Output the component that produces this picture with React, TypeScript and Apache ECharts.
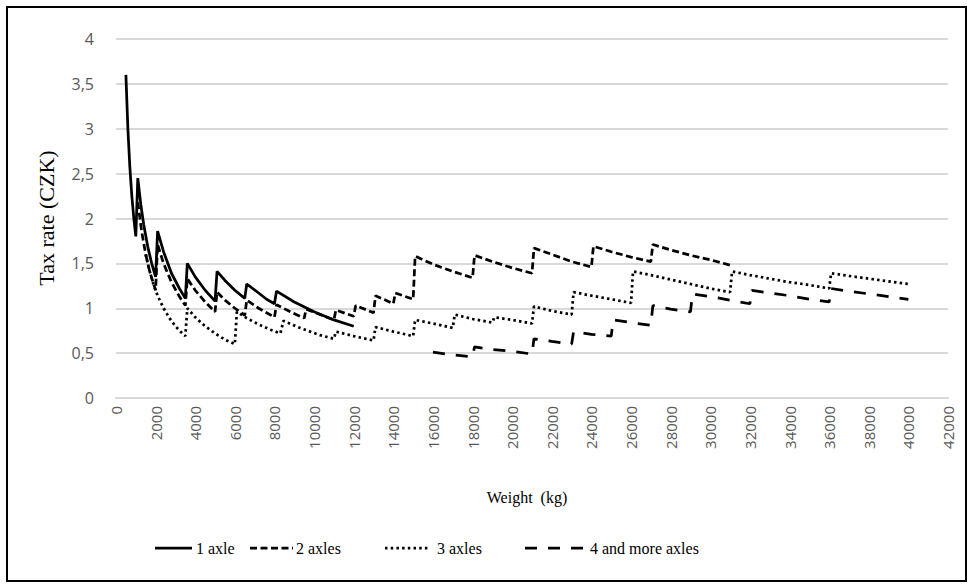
import React, { useEffect, useRef } from 'react';
import * as echarts from 'echarts';

const seriesNames = ['1 axle', '2 axles', '3 axles', '4 and more axles'];
const xTitle = 'Weight  (kg)';
const yTitle = 'Tax rate (CZK)';

// [weight kg, tax rate CZK]
const axle1: [number, number][] = [
  [500, 3.6], [600, 3.0], [700, 2.57], [800, 2.25], [900, 2.0], [1000, 1.8],
  [1100, 2.45], [1250, 2.16], [1400, 1.93], [1600, 1.69], [1800, 1.5], [2000, 1.35],
  [2100, 1.86], [2400, 1.63], [2800, 1.39], [3200, 1.22], [3500, 1.11],
  [3600, 1.5], [4000, 1.35], [4500, 1.2], [5000, 1.08],
  [5100, 1.41], [5500, 1.31], [6000, 1.2], [6500, 1.11],
  [6600, 1.27], [7200, 1.17], [7600, 1.1], [8000, 1.05],
  [8100, 1.19], [9000, 1.07], [10000, 0.96], [11000, 0.87], [12000, 0.8],
];

const axle2: [number, number][] = [
  [1100, 2.18], [1300, 1.85], [1500, 1.6], [1700, 1.41], [2000, 1.2],
  [2100, 1.71], [2400, 1.5], [2800, 1.29], [3200, 1.13], [3500, 1.03],
  [3600, 1.33], [4000, 1.2], [4500, 1.07], [5000, 0.96],
  [5100, 1.18], [5500, 1.09], [6000, 1.0], [6500, 0.92],
  [6600, 1.09], [7200, 1.0], [8000, 0.9],
  [8100, 1.04], [8800, 0.96], [9500, 0.89],
  [9600, 0.99], [10300, 0.93], [11000, 0.87],
  [11100, 0.98], [12000, 0.91],
  [12100, 1.03], [13000, 0.95],
  [13100, 1.14], [14000, 1.05],
  [14100, 1.17], [15000, 1.1],
  [15100, 1.58], [16000, 1.49], [17000, 1.41], [18000, 1.34],
  [18100, 1.59], [19000, 1.52], [20000, 1.45], [21000, 1.39],
  [21100, 1.67], [22000, 1.6], [23000, 1.52], [24000, 1.46],
  [24100, 1.69], [25000, 1.63], [26000, 1.57], [27000, 1.52],
  [27100, 1.71], [28000, 1.65], [29000, 1.59], [30000, 1.54], [31000, 1.48],
];

const axle3: [number, number][] = [
  [1500, 1.6], [1700, 1.41], [1900, 1.26], [2100, 1.14], [2400, 1.0], [2700, 0.89],
  [3000, 0.8], [3250, 0.74], [3500, 0.69],
  [3600, 1.0], [4000, 0.9], [4500, 0.8], [5000, 0.72], [5500, 0.65], [6000, 0.6],
  [6100, 0.96], [6600, 0.89], [7200, 0.82], [7800, 0.76], [8300, 0.72],
  [8450, 0.86], [9300, 0.78], [10300, 0.7], [11000, 0.66],
  [11100, 0.74], [12000, 0.69], [13000, 0.64],
  [13100, 0.79], [14000, 0.74], [15000, 0.69],
  [15100, 0.87], [16000, 0.83], [17000, 0.78],
  [17100, 0.93], [18000, 0.88], [19000, 0.84],
  [19100, 0.9], [20000, 0.87], [21000, 0.83],
  [21100, 1.02], [22000, 0.97], [23000, 0.93],
  [23100, 1.18], [24000, 1.14], [25000, 1.1], [26000, 1.06],
  [26100, 1.41], [27000, 1.37], [28000, 1.32], [29000, 1.27], [30000, 1.22], [31000, 1.18],
  [31100, 1.41], [32000, 1.37], [33000, 1.33], [34000, 1.29], [35000, 1.26], [36000, 1.22],
  [36100, 1.39], [37000, 1.36], [38000, 1.33], [39000, 1.3], [40000, 1.27],
];

const axle4: [number, number][] = [
  [16000, 0.51], [17000, 0.48], [18000, 0.46],
  [18100, 0.57], [19000, 0.54], [20000, 0.52], [21000, 0.49],
  [21100, 0.66], [22000, 0.63], [23000, 0.6],
  [23100, 0.74], [24000, 0.71], [25000, 0.69],
  [25100, 0.87], [26000, 0.84], [27000, 0.81],
  [27100, 1.03], [28000, 0.99], [29000, 0.96],
  [29100, 1.16], [30000, 1.13], [31000, 1.09], [32000, 1.05],
  [32100, 1.2], [33000, 1.17], [34000, 1.14], [35000, 1.1], [36000, 1.07],
  [36100, 1.22], [37000, 1.19], [38000, 1.16], [39000, 1.13], [40000, 1.1],
];

const seriesData = [axle1, axle2, axle3, axle4];
const dashes: (number[] | 'solid')[] = ['solid', [7, 3.5], [2.5, 3.2], [12, 11]];

const LW = 2.75;
const SERIF = "'Liberation Serif', 'Times New Roman', serif";
const SANS = "'Open Sans', 'Noto Sans', sans-serif";

export default function App() {
  const ref = useRef<HTMLDivElement>(null);
  useEffect(() => {
    const chart = echarts.init(ref.current!, null, { renderer: 'svg' });
    const legendItems = [
      { x1: 155, x2: 192, tx: 196 },
      { x1: 250, x2: 293, tx: 296 },
      { x1: 385, x2: 430, tx: 437 },
      { x1: 525, x2: 585, tx: 590 },
    ];
    const legendY = 548;
    const graphic: any[] = [
      {
        type: 'rect', shape: { x: 7, y: 7, width: 959, height: 574 },
        style: { fill: 'none', stroke: '#000', lineWidth: 2 }, silent: true,
      },
      {
        type: 'text', x: 527, y: 497,
        style: { text: xTitle, font: `16px ${SERIF}`, fill: '#000', textAlign: 'center', textVerticalAlign: 'middle' },
      },
      {
        type: 'text', x: 46, y: 218, rotation: Math.PI / 2,
        style: { text: yTitle, font: `22px ${SERIF}`, fill: '#000', textAlign: 'center', textVerticalAlign: 'middle' },
      },
    ];
    legendItems.forEach((it, i) => {
      graphic.push({
        type: 'line', shape: { x1: it.x1, y1: legendY, x2: it.x2, y2: legendY },
        style: { stroke: '#000', lineWidth: LW, lineDash: dashes[i] === 'solid' ? null : dashes[i] },
      });
      graphic.push({
        type: 'text', x: it.tx, y: legendY,
        style: { text: seriesNames[i], font: `16px ${SERIF}`, fill: '#000', textAlign: 'left', textVerticalAlign: 'middle' },
      });
    });

    chart.setOption({
      animation: false,
      backgroundColor: '#fff',
      grid: { left: 116, right: 23, top: 39, bottom: 189, containLabel: false },
      xAxis: {
        type: 'value', min: 0, max: 42000, interval: 2000,
        axisLine: { show: true, lineStyle: { color: '#d9d9d9', width: 2 } },
        axisTick: { show: false },
        splitLine: { show: false },
        axisLabel: {
          rotate: 90, margin: 8, color: '#595959', fontSize: 15, fontFamily: SANS,
          showMinLabel: true, showMaxLabel: true,
          formatter: (v: number) => String(v),
        },
      },
      yAxis: {
        type: 'value', min: 0, max: 4, interval: 0.5,
        axisLine: { show: false },
        axisTick: { show: false },
        splitLine: { show: true, lineStyle: { color: '#d9d9d9', width: 2 } },
        axisLabel: {
          margin: 22, color: '#595959', fontSize: 16, fontFamily: SANS,
          formatter: (v: number) => String(v).replace('.', ','),
        },
      },
      series: seriesData.map((d, i) => ({
        name: seriesNames[i],
        type: 'line',
        data: d,
        symbol: 'none',
        showSymbol: false,
        lineStyle: { color: '#000', width: LW, type: dashes[i] },
        z: 2 + i,
      })),
      graphic,
    });
    return () => chart.dispose();
  }, []);
  return (
    <div
      ref={ref}
      style={{ position: 'absolute', left: 0, top: 0, width: 971, height: 587, background: '#fff' }}
    />
  );
}
